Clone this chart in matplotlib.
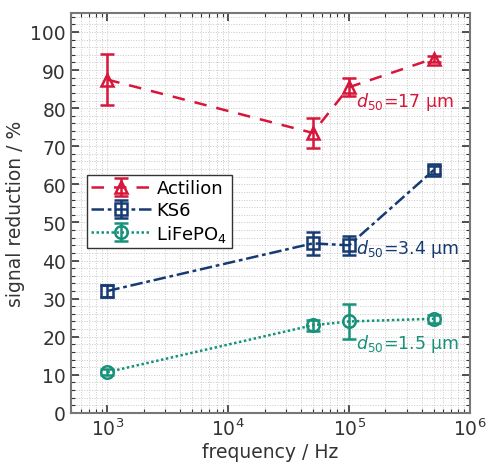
import numpy as np
import matplotlib
matplotlib.use("Agg")
import matplotlib.pyplot as plt

freq = [1e3, 5e4, 1e5, 5e5]

actilion = [87.5, 73.5, 85.5, 93.0]
actilion_err = [6.8, 4.0, 2.3, 0.8]
ks6 = [32.0, 44.5, 44.0, 63.7]
ks6_err = [1.5, 3.0, 2.5, 1.0]
lfp = [10.7, 23.0, 24.0, 24.7]
lfp_err = [0.8, 1.5, 4.5, 1.0]

c_red = '#d6163a'
c_blue = '#163b73'
c_teal = '#16927a'

plt.rcParams['font.family'] = 'DejaVu Sans'
fig = plt.figure(figsize=(4.86, 4.64), dpi=100)
ax = fig.add_axes([0.146, 0.108, 0.821, 0.862])

common = dict(capsize=5, elinewidth=1.8, capthick=1.8, lw=1.8, ms=9,
              mfc='none', mew=1.8)
ax.errorbar(freq, actilion, yerr=actilion_err, color=c_red, ls=(0, (5, 4)),
            marker='^', label='Actilion', **common)
ax.errorbar(freq, ks6, yerr=ks6_err, color=c_blue, ls=(0, (5, 1.5, 1.5, 1.5)),
            marker='s', label='KS6', **common)
ax.errorbar(freq, lfp, yerr=lfp_err, color=c_teal, ls=(0, (1, 1)),
            marker='o', label='LiFePO$_4$', **common)

ax.set_xscale('log')
ax.set_xlim(500, 1e6)
ax.set_ylim(0, 105)
ax.set_yticks(np.arange(0, 101, 10))
ax.set_yticks(np.arange(0, 105, 2), minor=True)
ax.grid(True, which='both', color='#c8c8c8', ls=':', lw=0.7)
ax.tick_params(which='both', direction='in', top=True, right=True,
               labelsize=13.5, colors='#333333')
ax.tick_params(which='major', length=6, width=1.2)
ax.tick_params(which='minor', length=3, width=0.8)
for s in ax.spines.values():
    s.set_color('#777777')
    s.set_linewidth(1.5)

ax.set_xlabel('frequency / Hz', fontsize=13.5, color='#333333', labelpad=2)
ax.set_ylabel('signal reduction / %', fontsize=13.5, color='#333333', labelpad=4)

ax.text(1.15e5, 80.5, '$d_{50}$=17 μm', color=c_red, fontsize=12.5)
ax.text(1.15e5, 42.0, '$d_{50}$=3.4 μm', color=c_blue, fontsize=12.5)
ax.text(1.15e5, 17.0, '$d_{50}$=1.5 μm', color=c_teal, fontsize=12.5)

leg = ax.legend(loc='upper left', bbox_to_anchor=(0.04, 0.595), fontsize=13,
                fancybox=False, edgecolor='#333333', framealpha=1,
                handlelength=3.3, borderpad=0.25, labelspacing=0.2,
                handletextpad=0.3, borderaxespad=0)
leg.get_frame().set_linewidth(1.0)

fig.savefig('out.png', dpi=100)
